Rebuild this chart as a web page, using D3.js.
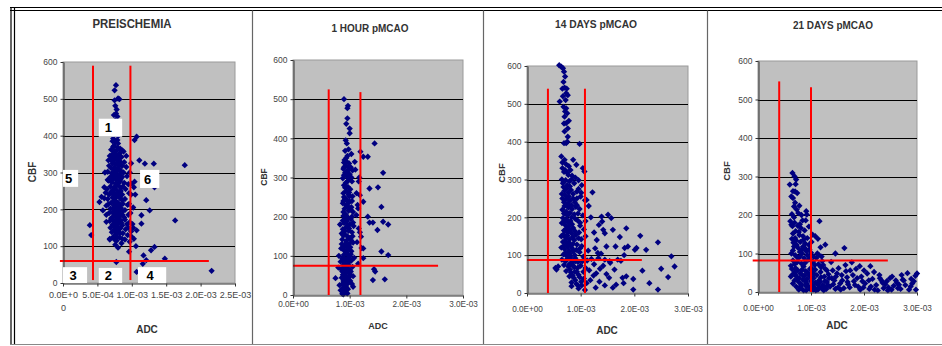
<!DOCTYPE html>
<html>
<head>
<meta charset="utf-8">
<script src="https://cdn.jsdelivr.net/npm/d3@7"></script>
<style>
  html, body { margin: 0; padding: 0; background: #fff; }
  svg { display: block; font-family: "Liberation Sans", Arial, sans-serif; }
</style>
</head>
<body>
<svg id="chart" width="942" height="346"></svg>
<script>
const preischemia = [
  [7.7,537],[7.5,523],[8.0,501],[7.5,496],[8.2,499],[7.6,481],[7.8,471],[7.7,460],[7.4,456],[7.9,452],[7.6,441],[7.8,426],[7.5,416],[7.7,406],[8.0,399],[7.3,392],[7.9,388],
  [7.2,385],[7.6,382],[8.0,379],[7.4,372],[7.9,368],[8.3,365],[7.0,362],[7.5,358],[8.6,360],[8.8,357],[7.2,350],[7.7,348],[8.1,346],[6.8,345],[8.5,342],[7.0,338],[7.4,335],[7.9,334],[8.3,330],[6.6,333],[8.9,328],[7.2,325],[7.6,322],[8.0,320],[8.6,318],[9.2,315],[6.7,318],[7.0,312],[7.4,308],[7.9,306],[8.4,305],[8.8,300],[6.5,302],[7.1,298],[7.6,295],[8.1,292],[6.9,288],[7.4,285],[8.6,288],[9.3,290],[7.8,280],[8.3,277],[6.6,278],[7.1,273],[7.6,270],[8.9,272],[9.5,268],[8.0,265],[6.9,262],[7.4,258],[8.4,258],[6.4,255],[7.8,252],[9.1,255],[8.2,246],[7.0,248],[7.5,242],[6.7,240],[8.6,240],[9.6,244],[7.9,236],[7.2,232],[6.5,228],[8.3,230],[9.0,228],[7.6,224],[8.0,218],[7.0,218],[6.6,214],[8.7,215],[9.4,212],[7.4,210],[7.9,206],[8.4,204],[6.9,202],[7.6,198],[8.2,195],[9.0,198],[7.2,192],[6.7,190],[7.8,188],[8.6,186],[9.5,185],[7.4,182],[8.1,178],[7.0,176],[7.7,172],[8.4,170],[9.0,172],[6.8,168],[7.5,165],[8.0,162],[9.3,160],[7.2,158],[8.6,156],[7.8,152],[6.9,150],[8.3,148],[7.5,145],[9.1,146],[8.0,140],[7.1,138],[8.7,135],[7.7,132],[9.4,130],[7.3,125],[8.2,124],[6.8,118],[7.8,115],[9.0,118],[8.5,108],[7.6,104],[8.0,96],
  [7.3,370],[7.8,360],[8.2,352],[7.5,343],[8.0,338],[7.2,330],[7.8,326],[8.3,322],[7.5,314],[8.1,311],[7.7,302],[8.3,297],[7.3,292],[7.9,287],[8.4,283],[7.2,280],[8.1,271],[7.6,262],[8.7,262],[7.3,252],[8.4,250],[7.9,244],[7.3,240],[8.2,236],[7.5,230],[8.6,225],[7.3,220],[8.3,212],[7.7,214],[8.1,200],[7.3,202],[8.7,196],[7.9,192],[7.4,188],[8.3,184],[7.7,180],[8.9,178],[7.3,170],[8.2,166],[7.8,160],[7.4,154],[8.5,163],[8.0,152],[7.6,138],[8.3,135],[7.9,124],[8.6,120],[7.5,118],
  [9.7,112],[9.9,140],[10.1,160],[9.8,190],[10.2,205],[9.9,240],[10.3,260],[10.0,270],[9.7,300],[9.9,325],[9.2,345],[9.6,215],[9.7,165],[10.0,125],[9.5,150],
  [6.2,245],[6.0,230],[6.3,210],[5.8,197],[5.6,234],[5.3,220],[6.3,166],[6.8,120],[3.9,157],[4.1,130],[7.75,57],[6.5,280],[6.1,300],[6.3,185],[6.0,260],
  [10.7,397],[10.4,388],[11.9,324],[11.1,333],[13.2,324],[17.7,320],[13.3,260],[12.1,225],[12.6,197],[13.3,98],[16.3,170],[14.8,66],[12.8,89],[11.7,75],[11.6,52],[12.1,62],[21.6,33],[10.7,30],[11.4,184],[11.4,161],[10.7,143],[10.3,120],[10.6,100],[10.4,275],[10.2,150],[10.5,240],[9.6,85]
];

const oneHour = [
  [9.0,500],[9.7,483],[9.6,477],[9.6,451],[9.4,437],[10.0,425],[10.0,413],[9.5,387],[9.3,395],[9.8,372],[9.2,368],[10.3,360],[9.6,355],
  [14.4,387],[11.9,366],[12.4,353],[13.2,353],[15.9,312],[13.5,272],[15.0,275],[12.4,238],[15.6,225],[13.2,200],[13.5,185],[14.1,185],[15.9,187],[16.8,180],[14.9,166],[15.6,111],[16.8,102],[14.3,66],[14.5,60],[14.1,38],[16.2,40],[12.4,119],[12.4,94],[12.0,149],[11.2,204],[11.5,221],[11.8,255],[11.6,170],[11.3,135],[11.7,300],[11.0,320],[10.9,340],[10.6,21],
  [7.5,43],[8.4,85],[8.0,70],[8.6,157],[8.5,119],[8.2,25],[8.4,12],[8.7,3],[8.1,100],[8.3,180],
  [9.1,345],[9.5,340],[9.9,336],[9.3,330],[10.2,326],[8.9,322],[9.7,318],[9.2,312],[10.0,308],[9.5,303],[8.8,298],[9.9,295],[10.4,290],[9.3,286],[9.0,280],[9.7,276],[10.1,270],[9.4,265],[8.9,260],[9.8,256],[10.5,252],[9.2,247],[9.6,242],[10.0,238],[8.8,234],[9.4,228],[10.3,224],[9.1,220],[9.8,215],[10.6,212],[9.3,206],[8.9,202],[9.7,198],[10.2,194],[9.5,188],[9.0,184],[10.0,180],[10.7,176],[9.3,172],[8.8,168],[9.8,164],[10.4,160],[9.1,155],[9.6,150],[10.1,146],[8.7,142],[9.4,138],[10.6,134],[9.9,130],[9.2,126],[8.9,120],[9.7,116],[10.3,112],[9.4,108],[9.0,103],[10.0,99],[10.8,95],[9.5,90],[8.8,86],[9.2,80],[9.8,76],[10.5,72],[9.0,68],[9.6,64],[8.7,60],[9.3,55],[10.1,52],[9.9,46],[9.1,42],[8.9,36],[9.5,32],[10.4,28],[9.2,24],[8.8,18],[9.7,15],[9.0,10],[9.4,6],[8.9,2],[9.6,4],
  [9.4,350],[9.0,338],[9.8,325],[9.5,314],[9.0,306],[9.6,290],[9.2,274],[9.9,262],[9.0,250],[9.5,232],[10.1,218],[9.2,196],[9.6,178],[9.1,162],[9.8,146],[9.3,132],[10.1,122],[9.6,104],[9.2,92],[9.9,84],[9.4,72],[9.1,58],[9.6,44],[9.3,38],[8.7,28],[9.4,20],[9.1,14],[9.7,30],[10.2,60],[10.3,88],[10.5,150],[10.4,200],[10.0,252],[10.3,300],[9.3,244],[9.7,226],[8.9,212],[9.4,190],[9.9,170],[8.9,152],[9.5,124],[9.0,114],[9.7,94],[8.9,76],[9.5,62],[9.2,48],
  [11.5,80],[11.8,160],[11.2,260],[11.6,290],[11.4,230],[12.1,120],
  [8.6,44],[9.8,40],[10.1,36],[8.8,52],[9.9,56],[10.6,48],[8.5,66],[10.0,64],[8.7,94],[10.2,104],[8.6,130],[10.2,140],[8.8,190],[10.6,185],[8.9,240],[10.4,240],[9.0,326],[10.5,318]
];

const days14 = [
  [6.0,602],[6.4,598],[6.7,594],[6.9,585],[7.1,572],[6.8,558],[7.0,543],[6.6,540],[7.3,528],[7.6,523],[7.2,510],[6.1,506],[6.8,492],[7.3,488],[7.5,475],[7.0,466],[7.3,449],[7.6,435],[7.0,427],[7.6,413],[7.3,396],[6.9,396],[9.8,394],[7.8,455],[7.1,480],[6.7,520],[7.4,540],[6.9,448],[7.5,400],
  [6.4,361],[7.0,352],[8.6,352],[9.2,339],[10.4,330],[10.7,321],[6.6,345],[7.3,340],[7.8,335],[8.1,325],[6.9,320],[7.5,318],[8.4,310],[9.0,305],[6.5,300],[7.2,298],[7.9,295],[8.8,290],[9.6,298],[10.2,285],[6.8,280],[7.4,276],[8.2,272],[9.3,268],[6.5,262],[7.1,258],[7.8,255],[8.6,250],[10.0,255],[10.8,245],[6.9,240],[7.6,236],[8.3,232],[9.1,228],[9.8,222],[6.6,220],[7.3,215],[8.0,212],[8.8,208],[10.4,205],[11.1,246],[12.2,266],
  [6.7,198],[7.4,195],[8.1,190],[9.4,192],[6.5,185],[7.1,180],[7.8,176],[8.6,172],[9.9,178],[10.6,168],[6.9,165],[7.6,160],[8.3,158],[9.1,154],[6.4,150],[7.2,146],[7.9,142],[8.8,140],[9.6,145],[10.9,150],[6.7,135],[7.5,130],[8.2,126],[9.3,128],[10.2,124],[6.4,120],[7.0,116],[7.8,112],[8.6,110],[9.8,108],[11.4,112],[6.8,102],[7.4,98],[8.1,95],[9.0,92],[10.5,96],[6.5,88],[7.2,84],[8.4,80],[9.5,82],[11.2,86],[12.0,90],[6.9,74],[7.7,70],[8.8,68],[10.0,72],[10.9,66],[5.3,66],[5.8,70],[5.5,62],[7.3,58],[8.2,54],[9.3,56],[11.6,60],[7.9,44],[8.7,40],[9.8,42],[10.6,38],[12.4,46],[8.3,28],[9.2,24],[10.2,20],[11.1,26],[8.3,18],[9.6,12],[10.8,8],[12.8,14],[13.5,30],[11.8,34],[12.9,52],[13.6,64],[12.5,76],[13.3,92],[13.8,104],[12.7,118],[14.2,72],[14.8,50],[15.3,40],[14.5,20],[16.0,14],[15.5,80],
  [6.6,330],[7.1,325],[7.7,312],[8.3,300],[6.7,290],[7.5,285],[8.0,282],[7.0,270],[7.7,265],[8.6,262],[6.6,250],[7.3,248],[8.0,244],[8.9,240],[7.0,230],[7.7,226],[8.4,222],[6.9,210],[7.5,205],[8.3,200],[9.0,196],[7.0,190],[7.7,186],[8.4,182],[7.3,170],[8.0,166],[8.9,164],[6.8,155],[7.5,152],[8.5,148],[7.1,138],[7.8,134],[8.6,130],[6.9,125],[7.6,122],[8.4,118],[9.2,114],[7.2,106],[8.0,104],[8.9,100],[7.5,90],[8.2,88],[9.0,84],[7.9,76],[8.6,72],[9.4,66],[8.0,62],[8.9,56],[9.6,48],[8.5,46],[9.0,34],[10.1,30],[9.5,20],[10.5,56],[10.3,84],[9.9,118],[10.1,142],[9.7,160],[9.9,186],[9.5,210],[9.3,250],[9.6,275],[10.1,265],[9.3,232],
  [13.9,202],[15.1,207],[15.7,198],[14.0,189],[14.2,167],[14.5,158],[16.0,167],[18.5,171],[21.1,151],[17.3,148],[18.8,123],[18.2,119],[20.4,119],[20.1,114],[22.2,114],[24.4,134],[26.9,97],[27.5,70],[25.0,64],[26.3,42],[21.5,59],[22.8,26],[24.4,9],[19.8,9],[19.8,37],[17.8,40],[18.5,44],[16.6,22],[18.0,26],[16.3,62],[16.9,88],[15.4,84],[14.5,88],[13.2,106],[14.8,123],[16.5,123],[17.5,85],[18.1,100],[13.0,140],[12.5,160],[13.4,180],[11.9,200],[11.5,230],[10.9,190]
];

const days21 = [
  [6.5,309],[6.0,279],[7.2,292],[7.0,261],[7.4,257],[6.3,248],[6.6,244],[6.8,222],[7.3,214],[7.6,205],[9.1,210],[9.2,201],[6.1,184],[6.5,171],
  [11.6,184],[10.3,149],[10.8,145],[11.3,138],[12.7,123],[14.6,100],[16.3,114],[17.7,77],[19.2,67],[21.2,67],
  [6.3,175],[6.9,180],[7.5,172],[8.1,166],[8.8,160],[7.1,158],[6.6,152],[7.8,148],[8.5,145],[9.3,140],[6.4,138],[7.2,134],[8.0,130],[8.9,126],[9.6,122],[6.8,118],[7.6,114],[8.3,110],[9.1,106],[10.0,102],[6.3,100],[7.0,96],[7.9,92],[8.7,88],[9.5,84],[6.6,82],[7.4,78],[8.2,74],[10.4,78],[11.0,88],[11.5,96],[10.7,70],[6.2,68],[7.1,62],[8.6,66],[9.8,60],[11.9,64],
  [6.5,45],[7.3,40],[8.0,48],[8.8,42],[9.6,46],[10.3,50],[11.1,44],[11.8,52],[12.5,40],[6.9,30],[7.7,26],[8.5,32],[9.2,22],[10.0,28],[10.8,24],[11.5,30],[12.2,18],[13.0,26],[7.2,14],[8.1,10],[9.0,16],[9.8,8],[10.6,12],[11.3,6],[12.0,10],[12.9,8],[13.6,14],[14.4,30],[14.9,48],[15.5,22],[16.2,10],[16.8,38],[17.4,56],[18.1,28],[18.9,14],[19.5,40],[20.2,22],[21.0,8],[21.6,34],[22.3,18],[22.9,44],[23.7,10],[24.3,28],[24.9,36],[25.6,16],[26.2,24],[26.9,8],[27.5,30],[28.2,49],[28.8,14],[29.4,28],[30.0,48],[29.8,6],[27.3,32],[26.6,19],[25.2,6],[24.0,20],[23.3,30],[22.0,6],[20.6,48],[19.9,12],[18.5,60],[17.0,20],[16.5,70],[15.8,44],[15.2,62],[14.1,56],[13.3,46],[12.7,60],[14.6,8],[13.9,36],
  [6.4,60],[6.9,52],[7.5,56],[8.3,58],[9.0,54],[9.9,40],[10.5,36],[11.2,20],[11.9,38],[12.6,28],[6.6,22],[7.4,32],[8.2,20],[8.9,28],[9.5,14],[10.2,18],[10.9,4],[11.6,12],[12.4,4],[13.2,18],[7.7,6],[8.6,4],[9.3,34],[10.1,62],[10.8,58],[11.4,72],[12.1,80],[7.9,104],[8.5,118],[9.3,96],[9.9,90],[7.3,122],[6.7,128],[8.6,136],[9.7,110],[10.5,92],[7.6,88],[8.9,76],[6.9,72],[10.0,82],[11.2,100],[12.0,92],[12.3,70],[13.0,56],[13.8,78],[14.7,40],[15.1,12],[15.9,30],[16.6,54],[17.3,12],[17.9,44],[18.7,36],[19.3,6],[20.0,56],[20.9,30],[21.9,52],[22.6,4],[23.5,24],[24.6,12],[25.3,40],[26.0,30],[27.8,18],[28.5,6],[29.1,22],[29.7,42],
  [6.2,40],[7.0,46],[7.8,36],[8.4,44],[9.4,50],[10.6,46],[11.7,26],[13.4,36],[14.2,20],[15.6,6],[16.9,26],[18.3,18],[19.7,28],[21.3,14],[23.0,36],[24.5,4],[26.4,10],[27.1,44],[28.9,34],[8.0,14],[9.1,4],[10.4,6],[12.7,12],[7.3,92],[8.3,100],[9.0,112],[6.6,108],[7.0,140],[7.7,156],[6.8,194],[7.9,176],[8.4,186],[9.0,186],[6.4,202],[7.0,232],[7.8,224],[6.6,262],[7.1,280],[6.9,300],[8.2,200],[9.6,170],[10.1,130],[11.8,116]
];

const titles = ['PREISCHEMIA', '1 HOUR pMCAO', '14 DAYS pMCAO', '21 DAYS pMCAO'];
const cbfTicks = [0, 100, 200, 300, 400, 500, 600];
const cbfGrid = [100, 200, 300, 400, 500];
const adcTicksPre = [0, 5e-4, 1e-3, 1.5e-3, 2e-3, 2.5e-3];
const adcTicks = [0, 1e-3, 2e-3, 3e-3];

// red threshold lines: verticals [adc, cbfFrom, cbfTo], horizontal [cbf, adcFrom, adcTo]
const thresholds = [
  { v: [[4.36e-4, 8, 590], [9.8e-4, 8, 590]], h: [60, -0.45e-4, 2.12e-3] },
  { v: [[6.3e-4, 0, 525], [1.19e-3, 0, 518]], h: [75, 0, 2.56e-3] },
  { v: [[3.9e-4, 0, 540], [1.08e-3, 0, 540]], h: [87, 0, 2.14e-3] },
  { v: [[4.0e-4, 0, 547], [1.0e-3, 0, 532]], h: [82, -0.1e-3, 2.45e-3] }
];

// numbered regions on the preischemia plot: [label, adc0, adc1, cbf0, cbf1]
const regions = [
  ['1', 0.52e-3, 0.86e-3, 397, 446],
  ['5', 0, 0.22e-3, 261, 307],
  ['6', 1.12e-3, 1.40e-3, 258, 307],
  ['3', 0, 0.35e-3, 0, 43],
  ['2', 0.52e-3, 0.86e-3, 0, 41],
  ['4', 1.09e-3, 1.50e-3, 0, 43]
];

const series = [preischemia, oneHour, days14, days21];

const layout = [
  { x0: 63, x1: 235, y0: 62, y1: 283, xMax: 2.5e-3, ticks: adcTicksPre, labelY: 297, tickFont: 9,
    title: { x: 132, y: 28, len: 79, size: 12 }, cbf: { x: 32, y: 172, size: 10 }, adc: { x: 147, y: 333 } },
  { x0: 293, x1: 463, y0: 60, y1: 295, xMax: 3e-3, ticks: adcTicks, labelY: 306, tickFont: 8.2,
    title: { x: 370, y: 32, len: 77, size: 10 }, cbf: { x: 264, y: 177, size: 8.5 }, adc: { x: 378, y: 329 } },
  { x0: 527, x1: 688, y0: 66, y1: 293, xMax: 3e-3, ticks: adcTicks, labelY: 311, tickFont: 8.2,
    title: { x: 596, y: 28, len: 82, size: 11 }, cbf: { x: 502, y: 173, size: 9.5 }, adc: { x: 607, y: 334 } },
  { x0: 758, x1: 917, y0: 61, y1: 292, xMax: 3e-3, ticks: adcTicks, labelY: 310, tickFont: 8.2,
    title: { x: 833, y: 29, len: 80, size: 11 }, cbf: { x: 727, y: 171, size: 9.5 }, adc: { x: 837, y: 329 } }
];

const fmtE = v => {
  if (v === 0) return '0.0E+00';
  const e = Math.floor(Math.log10(v) + 1e-9);
  return (v / Math.pow(10, e)).toFixed(1) + 'E-' + String(-e).padStart(2, '0');
};

const svg = d3.select('#chart');

// frame
svg.append('rect').attr('x', 0).attr('y', 0).attr('width', 942).attr('height', 346).attr('fill', '#fff');
[7.5, 10.5].forEach(y => svg.append('line').attr('x1', 10).attr('x2', 942).attr('y1', y).attr('y2', y)
  .attr('stroke', '#000').attr('stroke-width', 1.2));
[11, 14.5].forEach(x => svg.append('line').attr('x1', x).attr('x2', x).attr('y1', 7).attr('y2', 344)
  .attr('stroke', '#000').attr('stroke-width', 1.2));
svg.append('line').attr('x1', 10).attr('x2', 942).attr('y1', 344.5).attr('y2', 344.5)
  .attr('stroke', '#888').attr('stroke-width', 1.2);
[252.5, 483.5, 707.5].forEach(x => svg.append('line').attr('x1', x).attr('x2', x).attr('y1', 10.5).attr('y2', 344)
  .attr('stroke', '#666').attr('stroke-width', 1.2));

const diamond = d3.symbol().type(d3.symbolSquare).size(20)();

layout.forEach((L, i) => {
  const x = d3.scaleLinear().domain([0, L.xMax]).range([L.x0, L.x1]);
  const y = d3.scaleLinear().domain([0, 600]).range([L.y1, L.y0]);
  const g = svg.append('g');

  // plot area
  g.append('rect')
    .attr('x', L.x0).attr('y', L.y0)
    .attr('width', L.x1 - L.x0).attr('height', L.y1 - L.y0)
    .attr('fill', '#c0c0c0').attr('stroke', '#9a9a9a');

  // grid lines
  g.selectAll('.grid').data(cbfGrid).enter().append('line')
    .attr('x1', L.x0).attr('x2', L.x1)
    .attr('y1', d => Math.round(y(d)) + 0.5).attr('y2', d => Math.round(y(d)) + 0.5)
    .attr('stroke', '#000').attr('stroke-width', 1);

  // points
  g.selectAll('.pt').data(series[i]).enter().append('path')
    .attr('d', diamond)
    .attr('transform', d => `translate(${x(d[0] * 1e-4)},${y(d[1])}) rotate(45)`)
    .attr('fill', '#000080');

  // threshold lines
  const T = thresholds[i];
  T.v.forEach(v => g.append('line')
    .attr('x1', x(v[0])).attr('x2', x(v[0])).attr('y1', y(v[1])).attr('y2', y(v[2]))
    .attr('stroke', '#ff0000').attr('stroke-width', 2));
  g.append('line')
    .attr('x1', x(T.h[1])).attr('x2', x(T.h[2])).attr('y1', y(T.h[0])).attr('y2', y(T.h[0]))
    .attr('stroke', '#ff0000').attr('stroke-width', 2);

  // y axis
  const yAxis = g.append('g')
    .attr('transform', `translate(${L.x0 + 0.5},0)`)
    .call(d3.axisLeft(y).tickValues(cbfTicks).tickSize(3).tickSizeOuter(0).tickPadding(3));
  yAxis.select('.domain').attr('stroke', '#333');
  yAxis.selectAll('.tick line').attr('stroke', '#333');
  yAxis.selectAll('text').attr('font-size', 8.5).attr('fill', '#444')
    .attr('font-family', '"Liberation Sans", Arial, sans-serif');

  // x axis
  const fs = L.tickFont;
  const xAxis = g.append('g')
    .attr('transform', `translate(0,${L.y1 + 0.5})`)
    .call(d3.axisBottom(x).tickValues(L.ticks).tickSize(3).tickSizeOuter(0)
      .tickPadding(L.labelY - L.y1 - 3 - 0.71 * fs).tickFormat(fmtE));
  xAxis.select('.domain').attr('stroke', '#333');
  xAxis.selectAll('.tick line').attr('stroke', '#333');
  xAxis.selectAll('text').attr('font-size', fs).attr('fill', '#444')
    .attr('font-family', '"Liberation Sans", Arial, sans-serif');

  if (i === 0) {
    // the first label wraps in the narrow preischemia plot
    const first = xAxis.select('.tick text');
    first.text(null);
    first.append('tspan').attr('x', 0).text('0.0E+0');
    first.append('tspan').attr('x', 0).attr('dy', '1.5em').text('0');
  }

  // titles
  g.append('text')
    .attr('x', L.title.x).attr('y', L.title.y)
    .attr('text-anchor', 'middle')
    .attr('font-size', L.title.size).attr('font-weight', 'bold').attr('fill', '#333')
    .attr('textLength', L.title.len).attr('lengthAdjust', 'spacingAndGlyphs')
    .text(titles[i]);

  g.append('text')
    .attr('transform', `translate(${L.cbf.x},${L.cbf.y}) rotate(-90)`)
    .attr('text-anchor', 'middle').attr('dy', '0.35em')
    .attr('font-size', L.cbf.size).attr('font-weight', 'bold').attr('fill', '#333')
    .text('CBF');

  g.append('text')
    .attr('x', L.adc.x).attr('y', L.adc.y)
    .attr('text-anchor', 'middle')
    .attr('font-size', i === 1 ? 9 : 10).attr('font-weight', 'bold').attr('fill', '#333')
    .text('ADC');

  if (i === 0) {
    const boxes = g.selectAll('.region').data(regions).enter().append('g');
    boxes.append('rect')
      .attr('x', d => x(d[1])).attr('y', d => y(d[4]))
      .attr('width', d => x(d[2]) - x(d[1])).attr('height', d => y(d[3]) - y(d[4]))
      .attr('fill', '#fff');
    boxes.append('text')
      .attr('x', d => (x(d[1]) + x(d[2])) / 2 - 2)
      .attr('y', d => (y(d[3]) + y(d[4])) / 2)
      .attr('dy', '0.36em').attr('text-anchor', 'middle')
      .attr('font-size', 13).attr('font-weight', 'bold').attr('fill', '#000')
      .text(d => d[0]);
  }
});
</script>
</body>
</html>
